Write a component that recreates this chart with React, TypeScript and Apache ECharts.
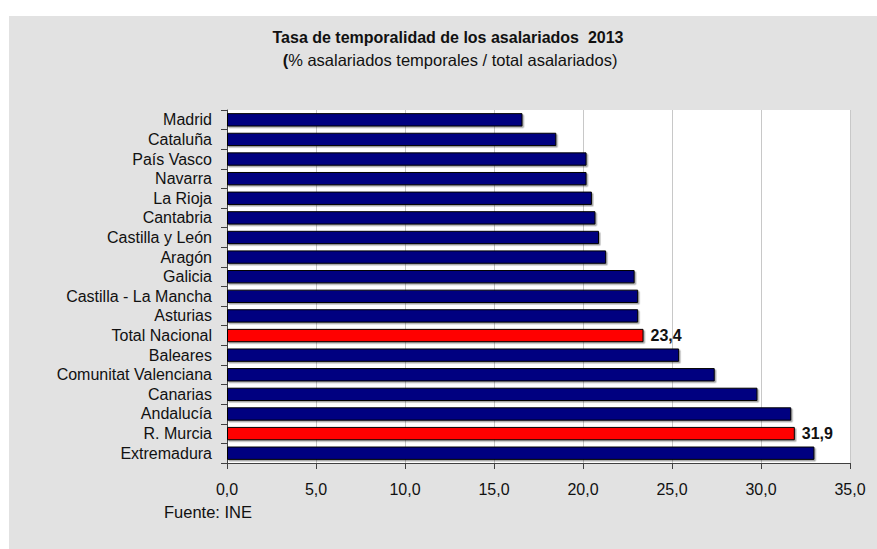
import React, { useEffect, useRef } from "react";
import * as echarts from "echarts";

const categories = [
  "Madrid",
  "Cataluña",
  "País Vasco",
  "Navarra",
  "La Rioja",
  "Cantabria",
  "Castilla y León",
  "Aragón",
  "Galicia",
  "Castilla - La Mancha",
  "Asturias",
  "Total Nacional",
  "Baleares",
  "Comunitat Valenciana",
  "Canarias",
  "Andalucía",
  "R. Murcia",
  "Extremadura",
];
const values = [16.6, 18.5, 20.2, 20.2, 20.5, 20.7, 20.9, 21.3, 22.9, 23.1, 23.1, 23.4, 25.4, 27.4, 29.8, 31.7, 31.9, 33.0];
const highlighted = ["Total Nacional", "R. Murcia"];
const xTicks = [0, 5, 10, 15, 20, 25, 30, 35];

const titleText = "Tasa de temporalidad de los asalariados  2013";
const subtitleText = "% asalariados temporales / total asalariados)";
const sourceText = "Fuente: INE";

const FONT = "'Liberation Sans', Arial, sans-serif";
const fmt = (v: number) => v.toFixed(1).replace(".", ",");

export default function App() {
  const ref = useRef<HTMLDivElement>(null);
  useEffect(() => {
    if (!ref.current) return;
    const chart = echarts.init(ref.current, undefined, { renderer: "svg" });
    const data = values.map((v, i) => {
      const hi = highlighted.includes(categories[i]);
      return {
        value: v,
        itemStyle: { color: hi ? "#ff0000" : "#000080" },
        label: {
          show: hi,
          position: "right",
          distance: 7,
          formatter: (p: any) => fmt(p.value),
          fontFamily: FONT,
          fontSize: 16,
          fontWeight: "bold",
          color: "#111",
        },
      };
    });
    chart.setOption({
      animation: false,
      backgroundColor: "transparent",
      grid: {
        left: 218,
        right: 27,
        top: 94,
        bottom: 86,
        show: true,
        backgroundColor: "#ffffff",
        borderWidth: 0,
      },
      graphic: [
        {
          type: "text",
          x: 439,
          y: 21,
          style: {
            text: titleText,
            font: `bold 16px ${FONT}`,
            fill: "#111",
            textAlign: "center",
            textVerticalAlign: "middle",
          },
        },
        {
          type: "text",
          x: 441,
          y: 44,
          style: {
            text: "{b|(}{n|" + subtitleText + "}",
            textAlign: "center",
            textVerticalAlign: "middle",
            fill: "#111",
            rich: {
              b: { fontFamily: FONT, fontSize: 16.5, fontWeight: "bold", fill: "#111" },
              n: { fontFamily: FONT, fontSize: 16.5, fill: "#111" },
            },
          },
        },
        {
          type: "text",
          x: 155,
          y: 496,
          style: {
            text: sourceText,
            font: `16.5px ${FONT}`,
            fill: "#111",
            textAlign: "left",
            textVerticalAlign: "middle",
          },
        },
      ],
      xAxis: {
        type: "value",
        min: 0,
        max: 35,
        interval: 5,
        axisLine: { show: true, lineStyle: { color: "#404040", width: 1 } },
        axisTick: { show: true, length: 6, lineStyle: { color: "#404040" } },
        axisLabel: {
          margin: 18,
          fontFamily: FONT,
          fontSize: 16,
          color: "#111",
          formatter: (v: number) => (xTicks.includes(v) ? fmt(v) : ""),
        },
        splitLine: { show: true, lineStyle: { color: "#c8c8c8", width: 1 } },
      },
      yAxis: {
        type: "category",
        data: categories,
        inverse: true,
        axisLine: { show: true, lineStyle: { color: "#404040", width: 1 } },
        axisTick: { show: true, length: 6, interval: 0, lineStyle: { color: "#404040" } },
        axisLabel: {
          margin: 15,
          interval: 0,
          hideOverlap: false,
          fontFamily: FONT,
          fontSize: 16,
          color: "#111",
        },
        splitLine: { show: false },
      },
      series: [
        {
          type: "bar",
          data,
          barCategoryGap: "32%",
          itemStyle: {
            borderColor: "#000000",
            borderWidth: 1,
            shadowColor: "rgba(0,0,0,0.35)",
            shadowOffsetX: 1.5,
            shadowOffsetY: 1.5,
            shadowBlur: 0,
          },
        },
      ],
    });
    return () => chart.dispose();
  }, []);
  return (
    <div
      style={{
        position: "absolute",
        left: 0,
        top: 0,
        width: 877,
        height: 549,
        background: "#ffffff",
      }}
    >
      <div
        ref={ref}
        style={{
          position: "absolute",
          left: 9,
          top: 16,
          width: 868,
          height: 533,
          background: "#e2e2e2",
        }}
      />
    </div>
  );
}
